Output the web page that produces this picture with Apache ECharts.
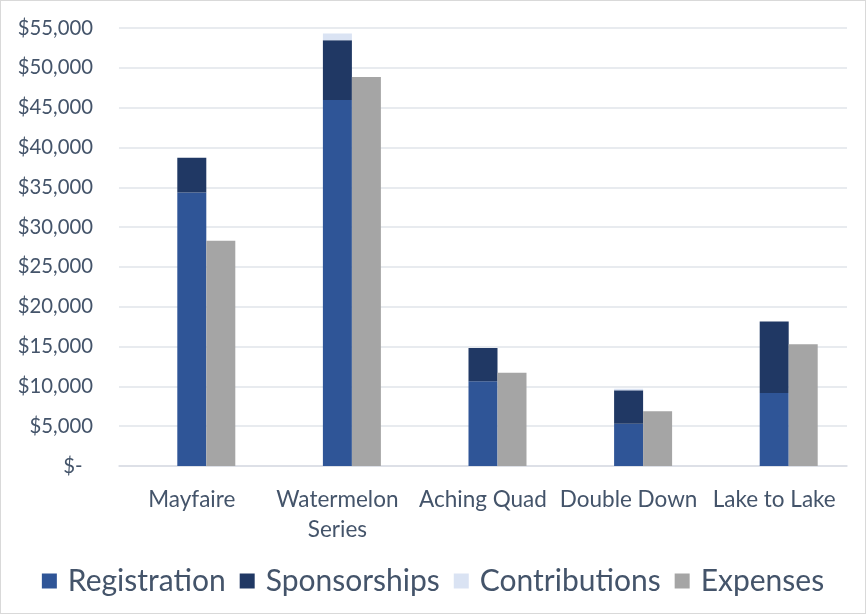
<!DOCTYPE html>
<html>
<head>
<meta charset="utf-8">
<script src="https://cdn.jsdelivr.net/npm/echarts@6/dist/echarts.min.js"></script>
<style>
html,body{margin:0;padding:0;background:#fff;}
#c{width:866px;height:614px;box-sizing:border-box;border:1px solid #D9D9D9;}
</style>
</head>
<body>
<div id="c"></div>
<script>
const categories = ['Mayfaire', 'Watermelon\nSeries', 'Aching Quad', 'Double Down', 'Lake to Lake'];
const registration = [34350, 45950, 10630, 5290, 9160];
const sponsorships = [4350, 7520, 4200, 4210, 9000];
const contributions = [0, 840, 0, 200, 0];
const expenses = [28280, 48850, 11700, 6880, 15300];
const yTicks = { min: 0, max: 55000, interval: 5000 };

const chart = echarts.init(document.getElementById('c'), null, { renderer: 'canvas' });
const font = 'Lato, "Open Sans", sans-serif';
const textColor = '#44546A';
chart.setOption({
  animation: false,
  grid: { left: 118, right: 18, top: 27, bottom: 147, containLabel: false },
  legend: {
    data: ['Registration', 'Sponsorships', 'Contributions', 'Expenses'],
    bottom: 12,
    left: 'center',
    itemWidth: 15,
    itemHeight: 15,
    itemGap: 14,
    icon: 'rect',
    textStyle: { fontFamily: font, fontSize: 30, color: textColor, padding: [0, 0, 0, 6] }
  },
  xAxis: {
    type: 'category',
    data: categories,
    axisLine: { lineStyle: { color: '#D9DDE5', width: 1.5 } },
    axisTick: { show: false },
    axisLabel: { interval: 0, fontFamily: font, fontSize: 22.5, color: textColor, margin: 19, lineHeight: 30 }
  },
  yAxis: {
    type: 'value',
    min: yTicks.min, max: yTicks.max, interval: yTicks.interval,
    axisLine: { show: false },
    axisTick: { show: false },
    splitLine: { lineStyle: { color: '#E1E4EA', width: 1.5 } },
    axisLabel: {
      fontFamily: font, fontSize: 20.3, color: textColor, margin: 26,
      formatter: v => v === 0 ? '$-  ' : '$' + v.toLocaleString('en-US')
    }
  },
  series: [
    { name: 'spacer', type: 'bar', data: categories.map(() => null), barWidth: 29, barGap: 0 },
    { name: 'Registration', type: 'bar', stack: 'inc', data: registration, barWidth: 29, barGap: 0, itemStyle: { color: '#2F5597' } },
    { name: 'Sponsorships', type: 'bar', stack: 'inc', data: sponsorships, barWidth: 29, barGap: 0, itemStyle: { color: '#203864' } },
    { name: 'Contributions', type: 'bar', stack: 'inc', data: contributions, barWidth: 29, barGap: 0, itemStyle: { color: '#DAE3F3' } },
    { name: 'Expenses', type: 'bar', data: expenses, barWidth: 29, barGap: 0, itemStyle: { color: '#A5A5A5' } }
  ]
});
</script>
</body>
</html>
